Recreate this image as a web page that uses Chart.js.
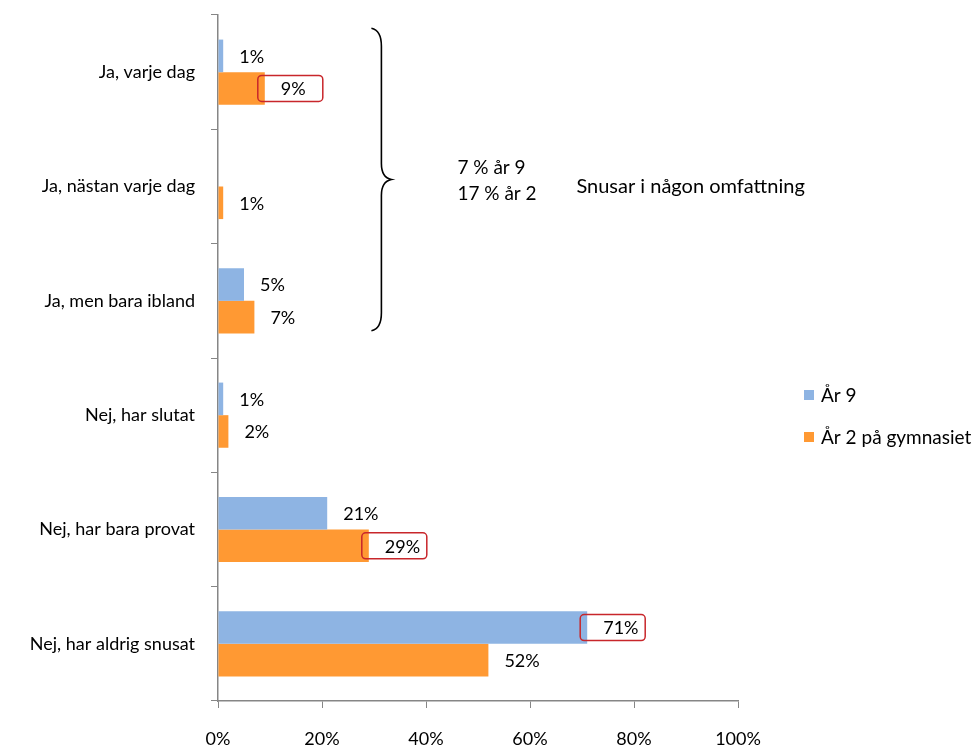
<!DOCTYPE html>
<html>
<head>
<meta charset="utf-8">
<script src="https://cdn.jsdelivr.net/npm/chart.js@4.4.0/dist/chart.umd.min.js"></script>
<style>
  body { margin: 0; background: #fff; }
  #wrap { width: 979px; height: 747px; }
</style>
</head>
<body>
<div id="wrap"><canvas id="snus" width="979" height="747"></canvas></div>
<script>
var categories = ["Ja, varje dag", "Ja, nästan varje dag", "Ja, men bara ibland", "Nej, har slutat", "Nej, har bara provat", "Nej, har aldrig snusat"];
var ar9 = [1, 0, 5, 1, 21, 71];
var ar2 = [9, 1, 7, 2, 29, 52];
var seriesNames = ["År 9", "År 2 på gymnasiet"];
var xTicks = [0, 20, 40, 60, 80, 100];
// labels that got a red box in the original: [dataset, index]
var boxed = [[1, 0], [1, 4], [0, 5]];
var groupText = ["7 % år 9", "17 % år 2"];
var sideText = "Snusar i någon omfattning";

var FONT = "Lato, 'Open Sans', sans-serif";

var extras = {
  id: "extras",
  afterDatasetsDraw: function(chart) {
    var ctx = chart.ctx;
    var x = chart.scales.x, y = chart.scales.y;
    ctx.save();
    ctx.font = "18px " + FONT;
    ctx.textBaseline = "middle";
    ctx.textAlign = "left";

    // red boxes first
    boxed.forEach(function(b) {
      var el = chart.getDatasetMeta(b[0]).data[b[1]];
      var tx = el.x + 16;
      ctx.strokeStyle = "#c8262b";
      ctx.lineWidth = 1.5;
      ctx.beginPath();
      ctx.roundRect(tx - 23, el.y - 13, 65, 26, 4);
      ctx.stroke();
    });

    // value labels
    chart.data.datasets.forEach(function(ds, di) {
      chart.getDatasetMeta(di).data.forEach(function(el, i) {
        var v = ds.data[i];
        if (!v) return;
        ctx.fillStyle = "#000";
        ctx.fillText(v + "%", el.x + 16, el.y + 1);
      });
    });

    // brace around the first three groups
    var bx = x.getPixelForValue(29.5);
    var top = y.getPixelForValue(0) - 44;
    var bot = y.getPixelForValue(2) + 30;
    var mid = (top + bot) / 2;
    ctx.strokeStyle = "#000";
    ctx.lineWidth = 1.6;
    ctx.beginPath();
    ctx.moveTo(bx, top);
    ctx.quadraticCurveTo(bx + 10, top + 2, bx + 10, top + 18);
    ctx.lineTo(bx + 10, mid - 16);
    ctx.quadraticCurveTo(bx + 10, mid - 2, bx + 20, mid);
    ctx.quadraticCurveTo(bx + 10, mid + 2, bx + 10, mid + 16);
    ctx.lineTo(bx + 10, bot - 18);
    ctx.quadraticCurveTo(bx + 10, bot - 2, bx, bot);
    ctx.stroke();

    ctx.fillStyle = "#000";
    ctx.font = "19px " + FONT;
    ctx.fillText(groupText[0], bx + 86, mid - 12);
    ctx.fillText(groupText[1], bx + 86, mid + 14);
    ctx.font = "20px " + FONT;
    ctx.fillText(sideText, bx + 205, mid + 7);

    // legend
    ctx.font = "19px " + FONT;
    chart.data.datasets.forEach(function(ds, di) {
      var ly = 395 + di * 42;
      ctx.fillStyle = ds.backgroundColor;
      ctx.fillRect(804, ly - 5, 10, 10);
      ctx.fillStyle = "#000";
      ctx.fillText(ds.label, 821, ly + 1);
    });
    ctx.restore();
  }
};

new Chart(document.getElementById("snus"), {
  type: "bar",
  data: {
    labels: categories,
    datasets: [
      { label: seriesNames[0], data: ar9, backgroundColor: "#8eb4e3" },
      { label: seriesNames[1], data: ar2, backgroundColor: "#ff9933" }
    ]
  },
  options: {
    indexAxis: "y",
    responsive: false,
    animation: false,
    layout: { padding: { left: 0, right: 241, top: 15, bottom: 0 } },
    datasets: { bar: { categoryPercentage: 0.57, barPercentage: 1.0 } },
    plugins: {
      legend: { display: false },
      tooltip: { enabled: false }
    },
    scales: {
      x: {
        min: 0,
        max: 100,
        afterBuildTicks: function(scale) {
          scale.ticks = xTicks.map(function(v) { return { value: v }; });
        },
        afterFit: function(scale) { scale.height = 46; },
        grid: { drawOnChartArea: false, tickLength: 7, color: "#868686" },
        border: { color: "#868686", width: 1.5 },
        ticks: {
          padding: 20,
          color: "#000",
          font: { family: FONT, size: 18 },
          callback: function(v) { return v + "%"; }
        }
      },
      y: {
        afterFit: function(scale) {
          scale.width = 218;
          scale.paddingTop = 0;
          scale.paddingBottom = 0;
        },
        grid: { drawOnChartArea: false, tickLength: 7, color: "#868686", offset: true },
        border: { color: "#868686", width: 1.5 },
        ticks: {
          padding: 16,
          color: "#000",
          font: { family: FONT, size: 18 }
        }
      }
    }
  },
  plugins: [extras]
});
</script>
</body>
</html>
